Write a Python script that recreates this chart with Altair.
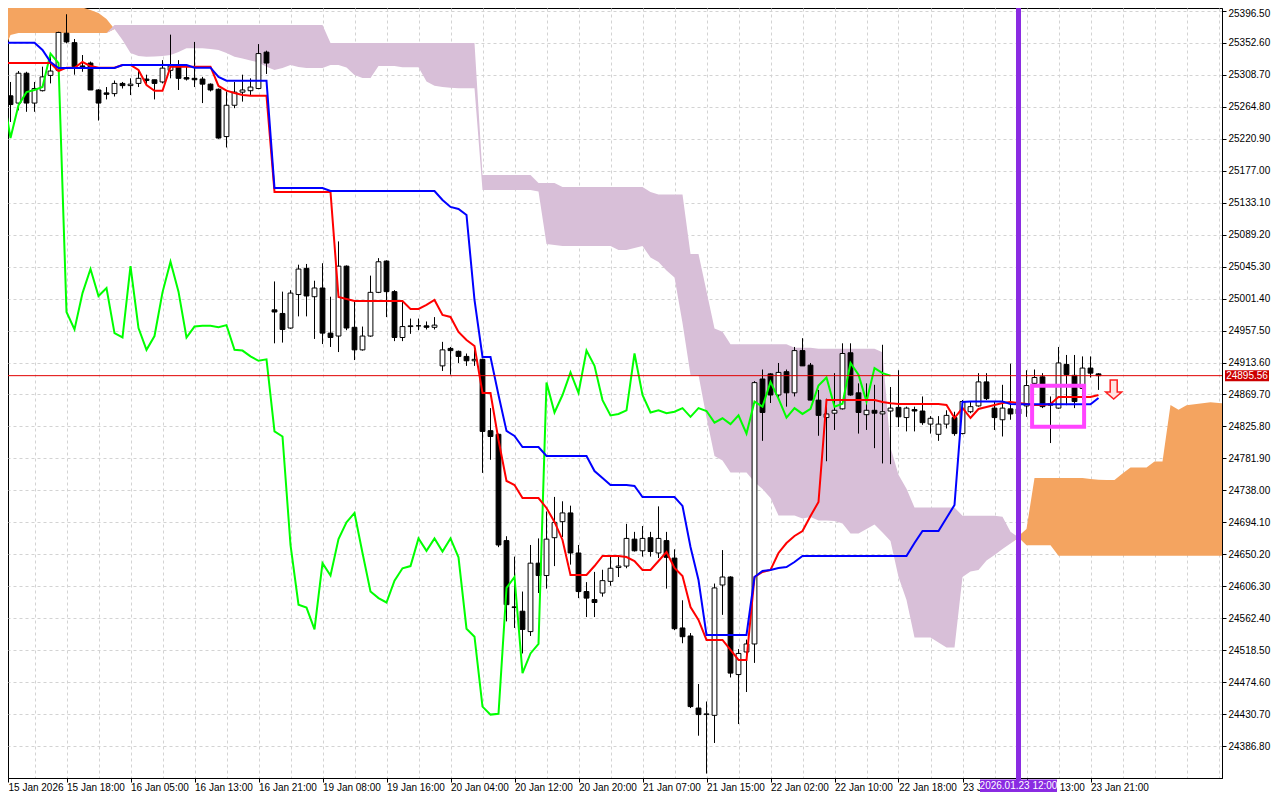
import json
import altair as alt
import pandas as pd

# ---------------- data ----------------
open_ = [25324, 25280, 25270, 25311, 25270, 25287, 25308, 25315, 25366, 25353,
         25321, 25325, 25288, 25284, 25283, 25297, 25294, 25297, 25303, 25302,
         25299, 25315, 25320, 25305, 25304, 25303, 25296, 25289, 25224, 25267,
         25285, 25287, 25290, 25340, 24986, 24981, 24961, 25007, 25043, 25004,
         25016, 24954, 24950, 25046, 24962, 24931, 24950, 25010, 25053, 25011,
         24948, 24963, 24964, 24964, 24962, 24909, 24933, 24929, 24922, 24916,
         24918, 24820, 24815, 24669, 24578, 24572, 24544, 24638, 24621, 24673,
         24695, 24707, 24652, 24599, 24588, 24597, 24613, 24632, 24634, 24671,
         24655, 24673, 24652, 24669, 24645, 24549, 24538, 24439, 24430, 24429,
         24608, 24619, 24485, 24516, 24527, 24891, 24898, 24869, 24901, 24872,
         24930, 24910, 24862, 24838, 24844, 24850, 24927, 24872, 24842, 24848,
         24843, 24847, 24852, 24838, 24849, 24847, 24829, 24815, 24829, 24838,
         24816, 24846, 24854, 24887, 24851, 24835, 24850, 24843, 24854, 24885,
         24894, 24855, 24851, 24911, 24896, 24878, 24906, 24898]
high = [25329, 25299, 25314, 25313, 25299, 25320, 25334, 25368, 25392, 25358,
        25336, 25327, 25289, 25292, 25301, 25299, 25304, 25315, 25309, 25302,
        25329, 25364, 25329, 25322, 25354, 25306, 25297, 25290, 25286, 25299,
        25309, 25304, 25351, 25342, 25025, 25011, 25013, 25048, 25049, 25026,
        25050, 25004, 25080, 25047, 24997, 24963, 25033, 25057, 25054, 25013,
        24997, 24974, 24974, 24970, 24976, 24942, 24935, 24930, 24926, 24931,
        24919, 24851, 24816, 24675, 24647, 24599, 24663, 24672, 24709, 24729,
        24723, 24717, 24663, 24612, 24626, 24629, 24647, 24649, 24692, 24681,
        24689, 24681, 24716, 24681, 24657, 24587, 24542, 24472, 24448, 24610,
        24656, 24620, 24520, 24533, 24888, 24904, 24899, 24913, 24904, 24935,
        24947, 24913, 24876, 24864, 24899, 24940, 24940, 24885, 24885, 24883,
        24938, 24880, 24903, 24853, 24853, 24867, 24840, 24840, 24848, 24846,
        24862, 24860, 24899, 24899, 24860, 24883, 24912, 24870, 24903, 24904,
        24899, 24867, 24935, 24924, 24924, 24922, 24922, 24899]
low = [25274, 25244, 25260, 25258, 25258, 25286, 25297, 25314, 25352, 25309,
       25313, 25288, 25246, 25275, 25279, 25290, 25281, 25292, 25295, 25275,
       25297, 25304, 25288, 25301, 25292, 25270, 25286, 25221, 25209, 25263,
       25272, 25281, 25289, 25310, 24940, 24941, 24960, 24977, 24977, 24946,
       24939, 24935, 24928, 24958, 24917, 24930, 24949, 25009, 24976, 24943,
       24943, 24953, 24958, 24959, 24959, 24902, 24897, 24913, 24909, 24909,
       24762, 24780, 24660, 24558, 24549, 24514, 24538, 24597, 24603, 24634,
       24674, 24636, 24590, 24564, 24564, 24592, 24607, 24619, 24631, 24654,
       24647, 24647, 24645, 24603, 24546, 24528, 24439, 24401, 24349, 24391,
       24567, 24481, 24417, 24461, 24501, 24806, 24858, 24863, 24853, 24867,
       24909, 24862, 24813, 24778, 24821, 24849, 24868, 24816, 24821, 24796,
       24775, 24774, 24825, 24819, 24819, 24828, 24816, 24806, 24823, 24813,
       24815, 24844, 24853, 24862, 24821, 24812, 24835, 24830, 24839, 24880,
       24851, 24803, 24850, 24855, 24851, 24862, 24893, 24876]
close = [25295, 25268, 25311, 25270, 25290, 25306, 25314, 25367, 25354, 25320,
         25320, 25288, 25270, 25282, 25297, 25294, 25296, 25304, 25301, 25297,
         25318, 25321, 25304, 25303, 25302, 25296, 25288, 25222, 25267, 25285,
         25288, 25292, 25338, 25325, 24983, 24959, 25009, 25042, 25005, 25016,
         24954, 24948, 25046, 24961, 24931, 24950, 25010, 25052, 25011, 24948,
         24963, 24964, 24964, 24962, 24965, 24931, 24930, 24922, 24916, 24918,
         24819, 24812, 24663, 24581, 24577, 24547, 24638, 24621, 24671, 24694,
         24707, 24652, 24599, 24590, 24584, 24614, 24631, 24634, 24672, 24655,
         24672, 24654, 24672, 24646, 24548, 24537, 24441, 24430, 24431, 24604,
         24619, 24487, 24514, 24527, 24886, 24845, 24869, 24900, 24872, 24930,
         24909, 24862, 24841, 24843, 24848, 24926, 24869, 24845, 24848, 24844,
         24846, 24851, 24839, 24851, 24847, 24831, 24837, 24829, 24841, 24816,
         24860, 24853, 24887, 24864, 24838, 24851, 24843, 24850, 24882, 24893,
         24853, 24857, 24913, 24897, 24860, 24906, 24899, 24895.56]

tenkan = [25325.1, 25325.1, 25325.1, 25325.1, 25325.1, 25325.1, 25325.1, 25314.1, 25318.6, 25318.6,
          25326.4, 25320.9, 25318.6, 25318.6, 25318.6, 25322.3, 25322.3, 25315.4, 25294.8, 25287.0,
          25287.0, 25320.0, 25320.0, 25320.0, 25320.0, 25320.0, 25320.0, 25293.5, 25287.0, 25283.8,
          25281.1, 25280.1, 25280.1, 25280.1, 25147.9, 25147.9, 25147.9, 25147.9, 25147.9, 25147.9,
          25147.9, 25147.9, 25003.6, 25000.9, 24998.1, 24998.1, 24998.1, 24998.1, 24998.1, 24998.1,
          24998.1, 24987.2, 24987.2, 24992.7, 24999.5, 24978.9, 24976.2, 24955.6, 24944.6, 24936.3,
          24871.8, 24871.8, 24807.2, 24750.9, 24745.4, 24727.5, 24727.5, 24727.5, 24713.8, 24694.6,
          24669.9, 24621.8, 24621.8, 24621.8, 24634.1, 24647.9, 24647.9, 24647.9, 24646.5, 24641.0,
          24628.6, 24628.6, 24641.0, 24653.3, 24631.4, 24620.4, 24577.8, 24560.0, 24532.5, 24532.5,
          24532.5, 24518.8, 24505.0, 24505.0, 24619.0, 24625.9, 24628.6, 24652.0, 24665.7, 24675.3,
          24682.2, 24702.8, 24722.0, 24862.2, 24862.2, 24862.2, 24862.2, 24862.2, 24862.2, 24862.2,
          24859.4, 24857.6, 24856.7, 24856.7, 24856.7, 24856.7, 24856.7, 24856.7, 24855.3, 24837.4,
          24851.2, 24837.4, 24849.8, 24852.5, 24855.3, 24858.0, 24859.4, 24858.0, 24856.7, 24855.3,
          24855.3, 24856.7, 24866.3, 24866.3, 24866.3, 24866.3, 24866.3, 24869.0]

kijun = [25352.9, 25352.9, 25352.9, 25352.9, 25352.9, 25342.9, 25326.4, 25318.2, 25318.2, 25318.2,
         25318.2, 25318.2, 25318.2, 25318.2, 25318.2, 25322.3, 25322.3, 25322.3, 25322.3, 25322.3,
         25322.3, 25322.3, 25322.3, 25322.3, 25318.6, 25318.6, 25318.6, 25305.8, 25300.8, 25300.8,
         25300.8, 25300.8, 25300.8, 25300.8, 25153.4, 25153.4, 25153.4, 25153.4, 25153.4, 25153.4,
         25153.4, 25149.2, 25149.2, 25149.2, 25149.2, 25149.2, 25149.2, 25149.2, 25149.2, 25149.2,
         25149.2, 25149.2, 25149.2, 25149.2, 25149.2, 25136.9, 25127.3, 25124.5, 25116.3, 24999.5,
         24921.2, 24921.2, 24869.0, 24819.6, 24812.7, 24797.6, 24797.6, 24797.6, 24785.2, 24785.2,
         24785.2, 24785.2, 24785.2, 24785.2, 24764.6, 24755.0, 24745.4, 24745.4, 24745.4, 24744.0,
         24728.9, 24728.9, 24728.9, 24728.9, 24728.9, 24716.6, 24660.2, 24614.9, 24539.4, 24539.4,
         24539.4, 24539.4, 24539.4, 24539.4, 24619.0, 24627.3, 24628.6, 24631.4, 24632.7, 24639.6,
         24647.9, 24647.9, 24647.9, 24647.9, 24647.9, 24647.9, 24647.9, 24647.9, 24647.9, 24647.9,
         24647.9, 24647.9, 24647.9, 24647.9, 24665.7, 24682.2, 24682.2, 24682.2, 24700.1, 24717.9,
         24859.4, 24860.1, 24860.1, 24860.1, 24860.1, 24860.1, 24856.7, 24856.3, 24856.3, 24856.3,
         24856.3, 24856.3, 24856.3, 24856.3, 24856.3, 24856.3, 24856.3, 24864.9]

span_a = [25420.0, 25420.0, 25420.0, 25420.0, 25420.0, 25420.0, 25420.0, 25420.0, 25406.8, 25404.0,
          25401.3, 25397.9, 25393.7, 25385.5, 25371.8, 25356.7, 25338.8, 25334.7, 25333.7, 25334.0,
          25334.7, 25336.1, 25340.2, 25345.3, 25345.3, 25345.3, 25344.3, 25342.9, 25338.8, 25333.7,
          25331.2, 25328.5, 25325.8, 25320.0, 25315.4, 25318.3, 25322.3, 25319.6, 25318.3, 25318.3,
          25318.3, 25322.3, 25322.3, 25318.9, 25308.6, 25304.6, 25304.6, 25321.1, 25321.1, 25321.1,
          25319.3, 25319.3, 25319.3, 25299.7, 25293.9, 25292.2, 25290.9, 25290.4, 25290.4, 25290.4,
          25150.6, 25150.6, 25150.6, 25150.6, 25150.6, 25150.6, 25150.6, 25148.5, 25076.4, 25075.1,
          25073.7, 25073.7, 25073.7, 25073.7, 25073.7, 25073.7, 25073.7, 25068.2, 25068.2, 25070.9,
          25073.7, 25057.9, 25051.7, 25040.0, 25030.4, 24967.9, 24896.5, 24896.5, 24838.1, 24785.2,
          24779.1, 24762.6, 24762.6, 24762.6, 24749.5, 24739.9, 24727.5, 24703.5, 24703.5, 24703.5,
          24699.4, 24701.4, 24696.6, 24696.6, 24696.0, 24692.5, 24678.8, 24678.8, 24685.0, 24691.2,
          24680.2, 24668.5, 24619.0, 24587.4, 24535.9, 24535.9, 24535.9, 24529.0, 24522.2, 24522.2,
          24619.0, 24626.6, 24628.6, 24641.7, 24649.2, 24657.5, 24665.1, 24675.3, 24685.0, 24755.0,
          24755.0, 24755.0, 24755.0, 24755.0, 24755.0, 24755.0, 24753.6, 24752.7, 24752.3, 24752.3,
          24761.2, 24769.4, 24769.4, 24769.4, 24777.7, 24777.7, 24855.3, 24848.7, 24854.9, 24856.3,
          24857.6, 24859.0, 24858.0, 24857.1]

span_b = [25336.1, 25363.5, 25366.3, 25366.3, 25366.3, 25366.3, 25366.3, 25366.3, 25366.3, 25366.3,
          25366.3, 25366.3, 25366.3, 25366.3, 25377.3, 25377.3, 25377.3, 25377.3, 25377.3, 25377.3,
          25377.3, 25377.3, 25377.3, 25377.3, 25377.3, 25377.3, 25377.3, 25377.3, 25377.3, 25377.3,
          25377.3, 25377.3, 25377.3, 25377.3, 25377.3, 25377.3, 25377.3, 25377.3, 25377.3, 25377.3,
          25377.3, 25352.5, 25352.5, 25352.5, 25352.5, 25352.5, 25352.5, 25352.5, 25352.5, 25352.5,
          25352.5, 25352.5, 25352.5, 25352.5, 25352.5, 25352.5, 25352.5, 25352.5, 25352.5, 25352.5,
          25171.2, 25171.2, 25171.2, 25171.2, 25171.2, 25171.2, 25171.2, 25160.2, 25160.2, 25160.2,
          25154.7, 25154.7, 25154.7, 25154.7, 25154.7, 25154.7, 25154.7, 25154.7, 25154.7, 25154.7,
          25154.7, 25147.9, 25144.4, 25144.4, 25144.4, 25144.4, 25062.8, 25062.8, 25011.6, 24960.5,
          24956.0, 24938.8, 24938.8, 24938.8, 24938.8, 24938.8, 24938.8, 24938.8, 24938.8, 24933.9,
          24933.9, 24933.9, 24932.6, 24932.6, 24932.6, 24932.6, 24932.6, 24932.6, 24932.6, 24932.6,
          24927.8, 24796.9, 24759.6, 24740.3, 24714.5, 24714.5, 24714.5, 24714.5, 24714.5, 24714.5,
          24703.1, 24703.1, 24703.1, 24703.1, 24703.1, 24701.9, 24681.3, 24673.3, 24662.6, 24662.6,
          24662.6, 24662.6, 24648.2, 24648.2, 24648.2, 24648.2, 24648.2, 24648.2, 24648.2, 24648.2,
          24648.2, 24648.2, 24648.2, 24648.2, 24648.2, 24648.2, 24648.2, 24648.2, 24648.2, 24648.2,
          24648.2, 24648.2, 24648.2, 24648.2]

CHIKOU_SHIFT = 26  # lagging span: close plotted 26 bars back

y_ticks = [24386.8, 24430.7, 24474.6, 24518.5, 24562.4, 24606.3, 24650.2, 24694.1,
           24738.0, 24781.9, 24825.8, 24869.7, 24913.6, 24957.5, 25001.4, 25045.3,
           25089.2, 25133.1, 25177.0, 25220.9, 25264.8, 25308.7, 25352.6, 25396.5]
x_labels = ["15 Jan 2026", "15 Jan 18:00", "16 Jan 05:00", "16 Jan 13:00", "16 Jan 21:00",
            "19 Jan 08:00", "19 Jan 16:00", "20 Jan 04:00", "20 Jan 12:00", "20 Jan 20:00",
            "21 Jan 07:00", "21 Jan 15:00", "22 Jan 02:00", "22 Jan 10:00", "22 Jan 18:00",
            "23 Jan 05:00", "23 Jan 13:00", "23 Jan 21:00"]

last_price = 24895.56
marker_bar = 127
marker_text = "2026.01.23 12:00"
signal_box = {"x1": 128.7, "x2": 135.2, "y1": 24881.8, "y2": 24825.5}
signal_arrow = {"x": 138.9, "y": 24876.4}

# ---------------- layout / style ----------------
W, H = 1214, 770
PAD_R, PAD_B = 50, 14
FONT = "Liberation Sans"
xscale = alt.Scale(domain=[0.6875, 152.4375], nice=False, zero=False)
yscale = alt.Scale(domain=[24342.9, 25400.6], nice=False, zero=False)

lab = json.dumps(x_labels)
label_expr = (f"datum.value < 1 ? {lab}[0] : ((datum.value % 8 === 0 && datum.value <= 136) "
              f"? {lab}[datum.value / 8] : '')")
tick_test = "datum.value < 1 || (datum.value % 8 === 0 && datum.value <= 136)"
x_values = [0.6875] + list(range(4, 153, 4))

xaxis = alt.Axis(values=x_values, title="", grid=True, gridColor="#D3D3D3", gridDash=[3, 3],
                 gridOpacity={"condition": {"test": "datum.value < 1", "value": 0}, "value": 1},
                 labelExpr=label_expr, labelAlign="left", labelBaseline="top", labelPadding=0,
                 labelFlush=False, labelOverlap=False, tickSize=4, tickColor="black",
                 tickOpacity={"condition": {"test": tick_test, "value": 1}, "value": 0},
                 domainColor="black", labelColor="black", labelFont=FONT, labelFontSize=10)
yaxis = alt.Axis(orient="right", values=y_ticks, format=".2f", title="", grid=True,
                 gridColor="#D3D3D3", gridDash=[3, 3], tickSize=4, tickColor="black",
                 domainColor="black", labelColor="black", labelFont=FONT, labelFontSize=10,
                 labelOffset={"condition": {"test": "datum.value > 25390", "value": 3}, "value": 0},
                 labelPadding=2, labelFlush=False, labelOverlap=False)


def X(f):
    return alt.X(f"{f}:Q", scale=xscale, axis=xaxis)


def Y(f):
    return alt.Y(f"{f}:Q", scale=yscale, axis=yaxis)


n = len(close)
candles_df = pd.DataFrame({"x": list(range(n)), "open": open_, "high": high,
                           "low": low, "close": close})
tenkan_df = pd.DataFrame({"x": list(range(n)), "value": tenkan})
kijun_df = pd.DataFrame({"x": list(range(n)), "value": kijun})
chikou_df = pd.DataFrame({"x": list(range(n - CHIKOU_SHIFT)), "value": close[CHIKOU_SHIFT:]})
cloud_df = pd.DataFrame({"x": list(range(len(span_a))), "spanA": span_a, "spanB": span_b})

cloud = alt.Chart(cloud_df).transform_calculate(lo="min(datum.spanA, datum.spanB)")
orange = cloud.mark_area(color="#F4A460", clip=True, opacity=1).encode(
    x=X("x"), y=Y("spanA"), y2=alt.Y2("lo"))
thistle = cloud.mark_area(color="#D8BFD8", clip=True, opacity=1).encode(
    x=X("x"), y=Y("spanB"), y2=alt.Y2("lo"))

cbase = alt.Chart(candles_df)
wicks = cbase.mark_rule(color="black", strokeWidth=1, clip=True).encode(
    x=X("x"), y=Y("low"), y2=alt.Y2("high"))
bodies = cbase.transform_calculate(xl="datum.x - 0.3", xr="datum.x + 0.3").mark_rect(
    stroke="black", strokeWidth=1, clip=True).encode(
    x=X("xl"), x2=alt.X2("xr"), y=Y("open"), y2=alt.Y2("close"),
    fill=alt.condition("datum.close >= datum.open", alt.value("white"), alt.value("black")))

chikou = alt.Chart(chikou_df).mark_line(color="#00FF00", strokeWidth=2, clip=True).encode(
    x=X("x"), y=Y("value"))
tenkan_l = alt.Chart(tenkan_df).mark_line(color="#FF0000", strokeWidth=2, clip=True).encode(
    x=X("x"), y=Y("value"))
kijun_l = alt.Chart(kijun_df).mark_line(color="#0000FF", strokeWidth=2, clip=True).encode(
    x=X("x"), y=Y("value"))

price_df = pd.DataFrame({"price": [last_price], "label": [f"{last_price:.2f}"]})
price_rule = alt.Chart(price_df).mark_rule(color="#E00000", strokeWidth=1).encode(y=Y("price"))

sig_rect = alt.Chart(pd.DataFrame([signal_box])).mark_rect(
    fillOpacity=0, stroke="#FF44FF", strokeWidth=4).encode(
    x=X("x1"), x2=alt.X2("x2"), y=Y("y1"), y2=alt.Y2("y2"))

ARROW = "M-0.35,-0.95L0.35,-0.95L0.35,0.25L0.8,0.25L0,0.95L-0.8,0.25L-0.35,0.25Z"
arrow = alt.Chart(pd.DataFrame([signal_arrow])).mark_point(
    shape=ARROW, size=400, filled=True, fill="#FFE4E1", stroke="#FF2020",
    strokeWidth=1.5, opacity=1).encode(x=X("x"), y=Y("y"))

marker_df = pd.DataFrame({"x": [marker_bar], "label": [marker_text]})
vline = alt.Chart(marker_df).mark_rule(color="#8A2BE2", strokeWidth=5).encode(
    x=X("x"), y=alt.value(0), y2=alt.value(H + 3))
LABEL_BOX = "M-1,-0.17L1,-0.17L1,0.17L-1,0.17Z"
tag_box = alt.Chart(marker_df).mark_point(
    shape=LABEL_BOX, size=77 ** 2, filled=True, color="#8A2BE2", opacity=1, strokeWidth=0).encode(
    x=X("x"), y=alt.value(H + 8))
tag_text = alt.Chart(marker_df).mark_text(
    color="white", font=FONT, fontSize=10, align="center", baseline="middle").encode(
    x=X("x"), y=alt.value(H + 8), text="label:N")

PRICE_BOX = "M-1,-0.25L1,-0.25L1,0.25L-1,0.25Z"
ptag = alt.Chart(price_df).mark_point(
    shape=PRICE_BOX, size=44 ** 2, filled=True, color="#CC0000", opacity=1, strokeWidth=0).encode(
    x=alt.value(W + 25), y=Y("price"))
ptext = alt.Chart(price_df).mark_text(
    color="white", font=FONT, fontSize=10, align="center", baseline="middle").encode(
    x=alt.value(W + 25), y=Y("price"), text="label:N")

chart = alt.layer(
    orange, thistle, wicks, bodies, chikou, tenkan_l, kijun_l, price_rule,
    sig_rect, arrow, vline, tag_box, tag_text, ptag, ptext
).properties(
    width=W, height=H,
    autosize=alt.AutoSizeParams(type="none"),
    padding={"left": 0, "top": 0, "right": PAD_R, "bottom": PAD_B},
    background="white",
).configure_view(stroke="black", strokeWidth=1)

chart.save("out.html", embed_options={"renderer": "svg", "actions": False})
